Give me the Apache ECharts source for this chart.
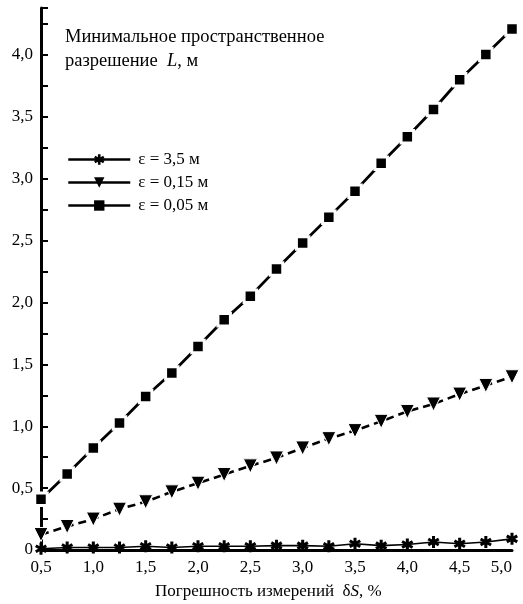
<!DOCTYPE html>
<html>
<head>
<meta charset="utf-8">
<script src="https://cdn.jsdelivr.net/npm/echarts@6/dist/echarts.min.js"></script>
<style>
html,body{margin:0;padding:0;background:#fff;}
#chart{width:523px;height:604px;}
</style>
</head>
<body>
<div id="chart"></div>
<script>
// Погрешность измерений δS, %
const xValues = [0.5, 0.75, 1.0, 1.25, 1.5, 1.75, 2.0, 2.25, 2.5, 2.75, 3.0, 3.25, 3.5, 3.75, 4.0, 4.25, 4.5, 4.75, 5.0];
// ε = 3,5 м
const eps35 = [0.01, 0.02, 0.02, 0.02, 0.03, 0.02, 0.03, 0.03, 0.03, 0.035, 0.035, 0.03, 0.05, 0.035, 0.045, 0.065, 0.05, 0.065, 0.09];
// ε = 0,15 м
const eps015 = [0.125, 0.19, 0.25, 0.33, 0.39, 0.47, 0.54, 0.61, 0.68, 0.744, 0.825, 0.90, 0.965, 1.04, 1.12, 1.18, 1.26, 1.33, 1.40];
// ε = 0,05 м
const eps005 = [0.41, 0.615, 0.825, 1.027, 1.24, 1.43, 1.645, 1.86, 2.05, 2.27, 2.48, 2.69, 2.90, 3.125, 3.34, 3.56, 3.80, 4.005, 4.21];
const seriesNames = ['ε = 3,5 м', 'ε = 0,15 м', 'ε = 0,05 м'];
const xTitle = 'Погрешность измерений  δ{i|S}, %';
const yTitle1 = 'Минимальное пространственное';
const yTitle2 = 'разрешение  {i|L}, м';

const FONT = '"Liberation Serif", "DejaVu Serif", serif';
const starPath = 'path://M-1.5,-6L1.5,-6L1.5,6L-1.5,6ZM-4.446,4.299L-5.946,1.701L4.446,-4.299L5.946,-1.701ZM5.946,1.701L4.446,4.299L-5.946,-1.701L-4.446,-4.299Z';

function pairs(ys){ return xValues.map((x,i)=>[x, ys[i]]); }
function fmt(v){
  if (v === 0) return '0';
  return v.toFixed(1).replace('.', ',');
}

const chart = echarts.init(document.getElementById('chart'), null, {renderer:'canvas'});
chart.setOption({
  backgroundColor:'#fff',
  animation:false,
  textStyle:{fontFamily:FONT, color:'#000'},
  grid:{left:41, right:11, top:8, bottom:54, containLabel:false},
  legend:{
    orient:'vertical', left:62, top:146, itemWidth:62, itemHeight:13, itemGap:6,
    textStyle:{fontFamily:FONT, fontSize:17, color:'#000', padding:[0,0,0,3]},
    lineStyle:{type:'solid', width:2.5, color:'#000'},
    itemStyle:{borderWidth:0, color:'#000'},
    data:seriesNames
  },
  xAxis:{
    type:'value', min:0.5, max:5.0, interval:0.5,
    axisLine:{show:true, lineStyle:{color:'#000', width:3}},
    axisTick:{show:false},
    splitLine:{show:false},
    axisLabel:{fontFamily:FONT, fontSize:17, color:'#000', margin:9, formatter:fmt, alignMaxLabel:'right'}
  },
  yAxis:{
    type:'value', min:0, max:4.38, interval:0.25,
    axisLine:{show:true, lineStyle:{color:'#000', width:3}},
    axisTick:{show:true, inside:true, length:7, lineStyle:{color:'#000', width:2}},
    splitLine:{show:false},
    axisLabel:{fontFamily:FONT, fontSize:17, color:'#000', margin:8,
      formatter:function(v){
        const d = v*2;
        if (Math.abs(d - Math.round(d)) > 1e-6 || v > 4.2) return '';
        return fmt(v);
      }}
  },
  graphic:[
    {type:'text', left:65, top:28, style:{text:yTitle1, font:'18.5px ' + FONT, fill:'#000'}},
    {type:'text', left:65, top:52, style:{text:yTitle2, font:'18.5px ' + FONT, fill:'#000',
      rich:{i:{fontStyle:'italic', fontFamily:FONT, fontSize:18.5}}}},
    {type:'text', left:155, top:583, style:{text:xTitle, font:'17px ' + FONT, fill:'#000',
      rich:{i:{fontStyle:'italic', fontFamily:FONT, fontSize:17}}}}
  ],
  series:[
    {name:seriesNames[0], type:'line', data:pairs(eps35), symbol:starPath, symbolSize:[12,12],
      lineStyle:{color:'#000', width:1.6}, itemStyle:{color:'#000'}, z:5},
    {name:seriesNames[1], type:'line', data:pairs(eps015), symbol:'triangle', symbolRotate:180, symbolSize:14,
      lineStyle:{color:'#000', width:2.6, type:[8,5]}, itemStyle:{color:'#000', borderColor:'#fff', borderWidth:1}, z:4},
    {name:seriesNames[2], type:'line', data:pairs(eps005), symbol:'rect', symbolSize:12.5,
      lineStyle:{color:'#000', width:2.8}, itemStyle:{color:'#000', borderColor:'#fff', borderWidth:3}, z:3}
  ]
});
</script>
</body>
</html>
